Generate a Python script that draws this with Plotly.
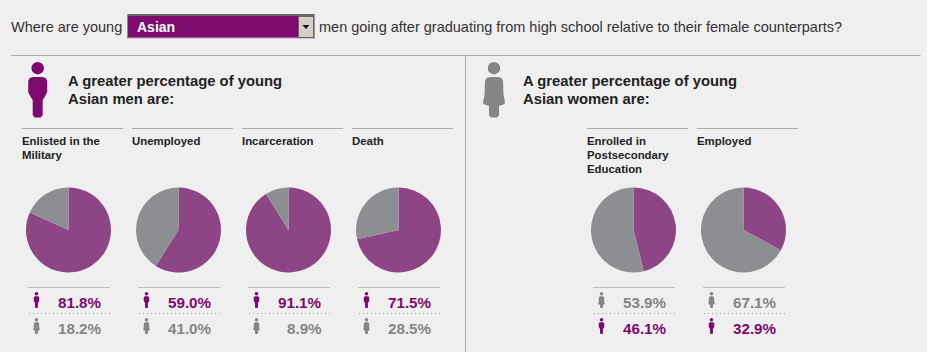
import plotly.graph_objects as go

W, H = 927, 352
BG = "#efefef"
PURPLE = "#7d0a6e"
PIE_PURPLE = "#8e4585"
GREY = "#858585"
PIE_GREY = "#8d8e91"
LINE = "#acacac"
FONT = "Liberation Sans"

categories = ["Enlisted in the<br>Military", "Unemployed", "Incarceration", "Death",
              "Enrolled in<br>Postsecondary<br>Education", "Employed"]
male_values = [81.8, 59.0, 91.1, 71.5, 46.1, 32.9]
female_values = [18.2, 41.0, 8.9, 28.5, 53.9, 67.1]
column_left = [22, 132, 242, 352, 587, 697]
pie_cx = [68.5, 178.5, 288.5, 398.5, 633.5, 743.5]
PIE_CY, PIE_R = 230, 42.5


def X(p):
    return p / W


def Y(p):
    return 1 - p / H


fig = go.Figure()
shapes, annots = [], []


def text(x, y, s, size, color="#222222", bold=False, anchor="left"):
    annots.append(dict(x=X(x), y=Y(y), xref="paper", yref="paper", text=f"<b>{s}</b>" if bold else s,
                       showarrow=False, xanchor=anchor, yanchor="middle", align="left",
                       font=dict(family=FONT, size=size, color=color), borderpad=0, borderwidth=0))


def line(x0, y0, x1, y1, color=LINE, dash="solid", width=1):
    shapes.append(dict(type="line", xref="paper", yref="paper", x0=X(x0), x1=X(x1), y0=Y(y0), y1=Y(y1),
                       line=dict(color=color, width=width, dash=dash)))


def rect(x0, y0, x1, y1, fill):
    shapes.append(dict(type="rect", xref="paper", yref="paper", x0=X(x0), x1=X(x1), y0=Y(y0), y1=Y(y1),
                       fillcolor=fill, line=dict(width=0)))


MAN = [(-4.5, 15), (4.5, 15), (8, 16), (9.5, 19), (9.5, 30), (7, 35), (5, 38), (5, 53), (3, 55.5), (-3, 55.5),
       (-5, 53), (-5, 38), (-7, 35), (-9.5, 30), (-9.5, 19), (-8, 16)]
WOMAN = [(-4.5, 15), (4.5, 15), (7.5, 16), (9, 19), (9.5, 33), (11, 40), (10.5, 42), (5, 44), (5, 53), (3, 55.5),
         (-3, 55.5), (-5, 53), (-5, 44), (-10.5, 42), (-11, 40), (-9.5, 33), (-9, 19), (-7.5, 16)]


def icon(cx, top, scale, kind, color):
    head_r, head_y = 6.2 * scale, top + 6.2 * scale
    shapes.append(dict(type="circle", xref="paper", yref="paper", fillcolor=color, line=dict(width=0),
                       x0=X(cx - head_r), x1=X(cx + head_r), y0=Y(head_y - head_r), y1=Y(head_y + head_r)))
    pts = MAN if kind == "m" else WOMAN
    path = "M " + " L ".join(f"{X(cx + a * scale):.5f},{Y(top + b * scale):.5f}" for a, b in pts) + " Z"
    shapes.append(dict(type="path", xref="paper", yref="paper", path=path, fillcolor=color, line=dict(width=0)))


# header
text(11, 27, "Where are young", 14.5, "#333333")
text(319, 27, "men going after graduating from high school relative to their female counterparts?", 14.5, "#333333")
# select box: grey top/left edge, pale lilac lower edge
rect(127, 14, 315, 39, "#d5c3d2")
rect(127, 14, 315, 16, "#666666")
rect(127, 14, 128, 38, "#8a8a8a")
rect(314, 14, 315, 39, "#999999")
rect(128, 16, 298, 37.5, PURPLE)
rect(298, 16, 314, 38, "#666666")
rect(299, 17, 313, 37, "#d4d0c8")
shapes.append(dict(type="path", xref="paper", yref="paper", fillcolor="#111111", line=dict(width=0),
                   path=f"M {X(302.5)},{Y(25)} L {X(309.5)},{Y(25)} L {X(306)},{Y(29)} Z"))
text(137, 27, "Asian", 14, "#ffffff", bold=True)

line(11, 55.5, 921, 55.5)
line(465.5, 55.5, 465.5, 352)

icon(37.7, 62, 1, "m", PURPLE)
icon(494, 62, 1, "f", GREY)
for x, who in ((68, "men"), (523, "women")):
    text(x, 81, "A greater percentage of young", 14.8, bold=True)
    text(x, 99, f"Asian {who} are:", 14.8, bold=True)

for i, cat in enumerate(categories):
    left = column_left[i]
    line(left, 128.5, left + 101, 128.5)
    for j, part in enumerate(cat.split("<br>")):
        text(left, 141 + 14 * j, part, 11.4, "#222222", bold=True)

    male_first = male_values[i] > female_values[i]
    fig.add_trace(go.Pie(
        values=[male_values[i], female_values[i]], labels=["Men", "Women"], sort=False,
        direction="clockwise", rotation=0, textinfo="none", showlegend=False,
        marker=dict(colors=[PIE_PURPLE, PIE_GREY], line=dict(width=0)),
        domain=dict(x=[X(pie_cx[i] - PIE_R), X(pie_cx[i] + PIE_R)],
                    y=[Y(PIE_CY + PIE_R), Y(PIE_CY - PIE_R)])))

    sx = left + 6
    line(sx, 287.5, sx + 82, 287.5, "#bdbdbd")
    line(sx + 1, 313.5, sx + 83, 313.5, "#a0a0a0", dash="1px,3px")
    rows = [("m", male_values[i], PURPLE), ("f", female_values[i], GREY)]
    if not male_first:
        rows.reverse()
    for (kind, val, col), top, ty in zip(rows, (292, 318), (302, 328)):
        icon(sx + 8.5, top, 0.29, kind, col)
        text(sx + 74, ty, f"{val:.1f}%", 15.2, col, bold=True, anchor="right")

fig.update_layout(width=W, height=H, margin=dict(l=0, r=0, t=0, b=0), autosize=False,
                  paper_bgcolor=BG, plot_bgcolor=BG, shapes=shapes, annotations=annots)
fig.write_html("out.html", config=dict(displayModeBar=False),
               post_script="document.body.style.margin='0';document.body.style.background='#efefef';document.body.style.overflow='hidden';")
